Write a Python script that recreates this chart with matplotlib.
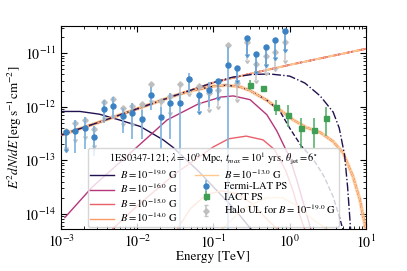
import numpy as np
import matplotlib
matplotlib.use('Agg')
import matplotlib.pyplot as plt
from matplotlib.ticker import NullFormatter, LogLocator

plt.rcParams['font.family'] = ['STIXGeneral', 'Liberation Serif', 'DejaVu Serif']
plt.rcParams['mathtext.fontset'] = 'stix'

# model curves, log10(E/TeV) and log10(E^2 dN/dE)
B_labels = ['-19.0', '-16.0', '-15.0', '-14.0', '-13.0']
B_colors = ['#221150', '#b5367a', '#e9606a', '#fb9a66', '#fdc98c']

casc_x = [
    [-3.0, -2.75, -2.5, -2.23, -1.96, -1.66, -1.53, -1.2, -0.9, -0.7, -0.5],
    [-2.95, -2.59, -2.0, -1.61, -1.2, -0.9, -0.74, -0.52, -0.3, -0.17, 0.0, 0.1, 0.2, 0.28],
    [-2.32, -2.0, -1.5, -1.0, -0.8, -0.57, -0.35, -0.2, -0.05, 0.05, 0.15, 0.2],
    [-1.48, -1.3, -1.1, -0.9, -0.7, -0.5, -0.3, -0.15],
    [-0.9, -0.6, -0.3, -0.1, 0.1, 0.3, 0.5],
]
casc_y = [
    [-12.09, -12.09, -12.14, -12.25, -12.37, -12.62, -12.76, -13.2, -13.65, -13.95, -14.3],
    [-14.07, -13.5, -12.75, -12.25, -11.95, -11.82, -11.80, -11.87, -12.15, -12.45, -12.95, -13.4, -13.9, -14.3],
    [-14.28, -13.85, -13.25, -12.75, -12.6, -12.55, -12.62, -12.8, -13.2, -13.6, -14.1, -14.3],
    [-14.3, -13.9, -13.65, -13.57, -13.62, -13.8, -14.1, -14.3],
    [-14.3, -13.9, -13.7, -13.7, -13.85, -14.1, -14.3],
]

intr_x = [-3.0, -2.5, -2.0, -1.5, -1.0, -0.5, 0.0, 0.5, 1.0]
intr_y = [-12.53, -12.29, -12.04, -11.79, -11.55, -11.38, -11.22, -11.07, -10.92]
intr19_x = [-3.0, -2.5, -2.0, -1.5, -1.0, -0.75, -0.5, -0.26, 0.0, 0.2, 0.4, 0.57, 0.65, 0.72, 0.76, 0.8]
intr19_y = [-12.53, -12.29, -12.04, -11.79, -11.55, -11.45, -11.40, -11.39, -11.43, -11.56, -11.80, -12.1, -12.4, -12.9, -13.5, -14.3]

abs_x = [-3.0, -2.5, -2.0, -1.5, -1.25, -1.0, -0.83, -0.65, -0.52, -0.3, -0.13, 0.05, 0.22, 0.4, 0.57, 0.7, 0.83, 0.92, 1.0]
abs_y = [-12.53, -12.29, -12.04, -11.79, -11.69, -11.62, -11.60, -11.63, -11.70, -11.88, -12.06, -12.25, -12.39, -12.48, -12.65, -12.86, -13.30, -13.73, -14.3]
abs19_x = [-3.0, -2.5, -2.0, -1.5, -1.25, -1.0, -0.83, -0.65, -0.52, -0.3, -0.13, 0.0, 0.15, 0.3, 0.45, 0.57, 0.65, 0.7]
abs19_y = [-12.53, -12.29, -12.04, -11.79, -11.69, -11.62, -11.60, -11.63, -11.70, -11.88, -12.08, -12.40, -12.73, -12.96, -13.30, -13.68, -14.05, -14.3]

# Fermi-LAT point source
fermi_logE = -2.94 + 0.125 * np.arange(24)
fermi_y = [-12.48, -12.46, -12.39, -12.57, -12.04, -11.98, -12.17, -12.12, -12.23, -11.78, -12.19, -11.94,
           -11.93, -11.48, -11.78, -11.68, -11.52, -11.23, -11.28, -10.72, -11.01, -10.89, -10.75, -10.59]
fermi_lo = [-12.80, -12.86, -12.80, -12.93, -12.30, -12.22, -12.50, -12.60, -12.60, -12.07, -12.80, -12.60,
            -14.5, -11.75, -12.08, -12.00, -11.82, -14.5, -11.50, -11.02, -11.34, -11.20, -11.07, -10.92]
fermi_hi = [-12.48, -12.25, -12.19, -12.37, -11.88, -11.82, -12.03, -11.93, -12.06, -11.63, -12.00, -11.75,
            -11.75, -11.38, -11.78, -11.54, -11.52, -10.88, -11.28, -10.72, -11.01, -10.89, -10.75, -10.59]
fermi_ul = [1, 0, 0, 0, 0, 0, 0, 0, 0, 0, 0, 0, 0, 0, 1, 0, 1, 0, 1, 1, 1, 1, 1, 1]

# halo upper limits, B = 1e-19 G
halo_y = [-12.45, -12.30, -12.24, -12.42, -11.92, -11.86, -12.02, -11.98, -11.95, -11.58, -11.90, -11.80,
          -11.58, -11.48, -11.62, -11.75, -11.68, -10.85, -11.55, -10.80, -11.20, -11.05, -10.98, -10.80]
halo_lo = [-12.75, -12.60, -12.55, -12.72, -12.20, -12.15, -12.30, -12.30, -12.25, -11.88, -12.20, -12.10,
           -11.90, -11.75, -11.92, -12.05, -11.98, -11.22, -11.85, -11.12, -11.50, -11.35, -11.28, -11.12]

# IACT point source
iact_logE = [-0.521, -0.355, -0.185, -0.019, 0.148, 0.314, 0.48]
iact_y = [-11.60, -11.66, -12.00, -12.15, -12.40, -12.43, -12.22]
iact_lo = [-11.69, -11.71, -12.16, -12.38, -12.77, -12.77, -12.55]
iact_hi = [-11.51, -11.62, -11.88, -11.97, -12.21, -12.21, -12.00]

fig = plt.figure(figsize=(4.07, 2.71), dpi=100)
ax = fig.add_axes([0.150, 0.155, 0.749, 0.749])

p = lambda v: 10.0 ** np.asarray(v, dtype=float)

lines = []
for i in range(5):
    l, = ax.plot(p(casc_x[i]), p(casc_y[i]), color=B_colors[i], lw=1.0,
                 label=r'$B = 10^{%s}$ G' % B_labels[i])
    lines.append(l)

# absorbed (dashed) and intrinsic (dash-dot) spectra
ax.plot(p(abs_x), p(abs_y), color='#fdc98c', lw=2.6, alpha=0.8, zorder=2)
ax.plot(p(abs19_x), p(abs19_y), color=B_colors[0], lw=1.0, ls='--', zorder=3)
for i in range(1, 5):
    ax.plot(p(intr_x), p(intr_y), color=B_colors[i], lw=1.3,
            ls=(1.3 * (i - 1), (3.0, 1.6, 1.0, 1.6)), zorder=3)
    ax.plot(p(abs_x), p(abs_y), color=B_colors[i], lw=0.9, ls='--', zorder=3)
ax.plot(p(intr19_x), p(intr19_y), color=B_colors[0], lw=1.0, ls='-.', zorder=3)

fE = p(fermi_logE)
ul = np.array(fermi_ul, dtype=bool)
fy = p(fermi_y)
err = np.vstack([fy - p(fermi_lo), p(fermi_hi) - fy])

hy = p(halo_y)
h = ax.errorbar(fE, hy, yerr=[hy - p(halo_lo), np.zeros_like(hy)], uplims=True, fmt='D',
                color='#bdbdbd', ms=2.8, lw=1.1, capsize=1.5, alpha=0.9, zorder=4,
                label=r'Halo UL for $B = 10^{-19.0}$ G')
ax.errorbar(fE[~ul], fy[~ul], yerr=err[:, ~ul], fmt='o', color='#3b82c4', ecolor='#7ab2e0',
            ms=3.6, lw=1.2, zorder=5)
ax.errorbar(fE[ul], fy[ul], yerr=err[:, ul], uplims=True, fmt='o', color='#3b82c4',
            ecolor='#5f9fd6', ms=3.6, lw=1.2, capsize=1.5, zorder=5)
f = ax.errorbar([], [], yerr=[], fmt='o', color='#3b82c4', ecolor='#7ab2e0', ms=3.6, lw=1.2,
                label='Fermi-LAT PS')

iy = p(iact_y)
ie = ax.errorbar(p(iact_logE), iy, yerr=[iy - p(iact_lo), p(iact_hi) - iy], fmt='s',
                 color='#3f9f55', ecolor='#5cb36e', ms=3.6, lw=1.2, zorder=5, label='IACT PS')

ax.set_xscale('log')
ax.set_yscale('log')
ax.set_xlim(1e-3, 10)
ax.set_ylim(5.2e-15, 3.2e-11)
ax.set_yticks([1e-14, 1e-13, 1e-12, 1e-11])
ax.yaxis.set_minor_locator(LogLocator(base=10, subs=np.arange(2, 10)))
ax.yaxis.set_minor_formatter(NullFormatter())
ax.xaxis.set_minor_formatter(NullFormatter())
ax.tick_params(which='both', direction='in', top=True, right=True, labelsize=10)
ax.tick_params(which='major', length=4)
ax.tick_params(which='minor', length=2)
ax.set_xlabel('Energy [TeV]', fontsize=9.5, labelpad=0)
ax.set_ylabel(r'$E^2 dN/dE\,[\mathrm{erg\,s^{-1}cm^{-2}}]$', fontsize=9.5, labelpad=0)

leg = ax.legend(handles=lines + [f, ie, h], ncol=2, loc='lower center', fontsize=7.6,
                title=r'1ES0347-121; $\lambda = 10^0\,$Mpc, $t_{max} = 10^1$ yrs, $\theta_{\rm jet} = 6^{\circ}$',
                title_fontsize=7.4, borderaxespad=0.2, handlelength=2.2, handletextpad=0.6,
                columnspacing=1.6, labelspacing=0.08, borderpad=0.25, framealpha=0.8)

fig.savefig('out.png', dpi=100)
